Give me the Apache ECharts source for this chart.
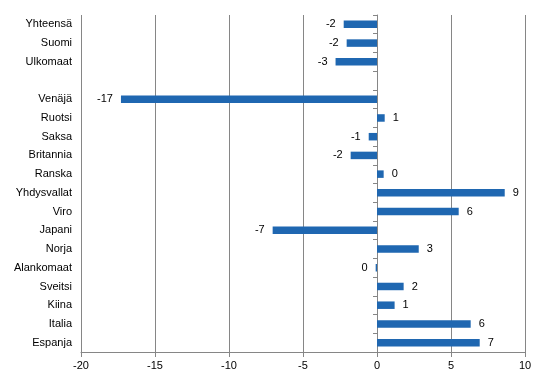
<!DOCTYPE html>
<html lang="en">
<head>
    <meta charset="UTF-8">
    <title>Muutos</title>
    <script src="https://cdn.jsdelivr.net/npm/echarts@6/dist/echarts.min.js"></script>
</head>
<style>
    * {
        margin: 0px;
        padding: 0px;
    }
    html , body {
        width: 546px;
        height: 376px;
        overflow: hidden;
        background: #fff;
    }
    .container{
        width: 546px;
        height: 376px;
    }
</style>
<body>
    <div class="container"></div>
</body>
<script>
    let categories=['Yhteensä','Suomi','Ulkomaat','','Venäjä','Ruotsi','Saksa','Britannia','Ranska',
        'Yhdysvallat','Viro','Japani','Norja','Alankomaat','Sveitsi','Kiina','Italia','Espanja'];
    let values=[-2.25,-2.05,-2.8,null,-17.3,0.52,-0.56,-1.78,0.45,
        8.63,5.52,-7.05,2.82,-0.09,1.8,1.19,6.33,6.94];
    let xTicks=[-20,-15,-10,-5,0,5,10];

    let container=document.querySelector(".container");
    let mycharts=echarts.init(container);

    let barData=values.map(v=>{
        if (v==null) return null;
        return {
            value: v,
            label: {position: v<0?'left':'right'}
        }
    });

    let option={
        animation:false,
        textStyle:{fontFamily:'Liberation Sans, Arial, sans-serif'},
        grid:{left:81,right:21,top:15,bottom:24},
        xAxis:{
            type:'value',
            min:xTicks[0],
            max:xTicks[xTicks.length-1],
            interval:5,
            axisLine:{show:true,lineStyle:{color:'#868686'}},
            axisTick:{show:true,length:5,lineStyle:{color:'#868686'}},
            axisLabel:{color:'#000',fontSize:11,margin:8},
            splitLine:{show:true,lineStyle:{color:'#868686',width:1}}
        },
        yAxis:[{
            type:'category',
            data:categories,
            inverse:true,
            position:'left',
            axisLine:{show:false,onZero:false},
            axisTick:{show:false},
            axisLabel:{color:'#000',fontSize:11,margin:9}
        },{
            type:'category',
            data:categories,
            inverse:true,
            position:'left',
            axisLine:{show:true,onZero:true,lineStyle:{color:'#868686'}},
            axisTick:{show:true,length:4,lineStyle:{color:'#868686'}},
            axisLabel:{show:false}
        }],
        series:[{
            type:'bar',
            yAxisIndex:0,
            data:barData,
            barWidth:7.5,
            itemStyle:{color:'#1f67b1'},
            label:{
                show:true,
                distance:8,
                color:'#000',
                fontSize:11,
                formatter:function (p) {
                    return String(Math.round(p.value));
                }
            }
        }]
    }
    mycharts.setOption(option)
</script>
</html>
